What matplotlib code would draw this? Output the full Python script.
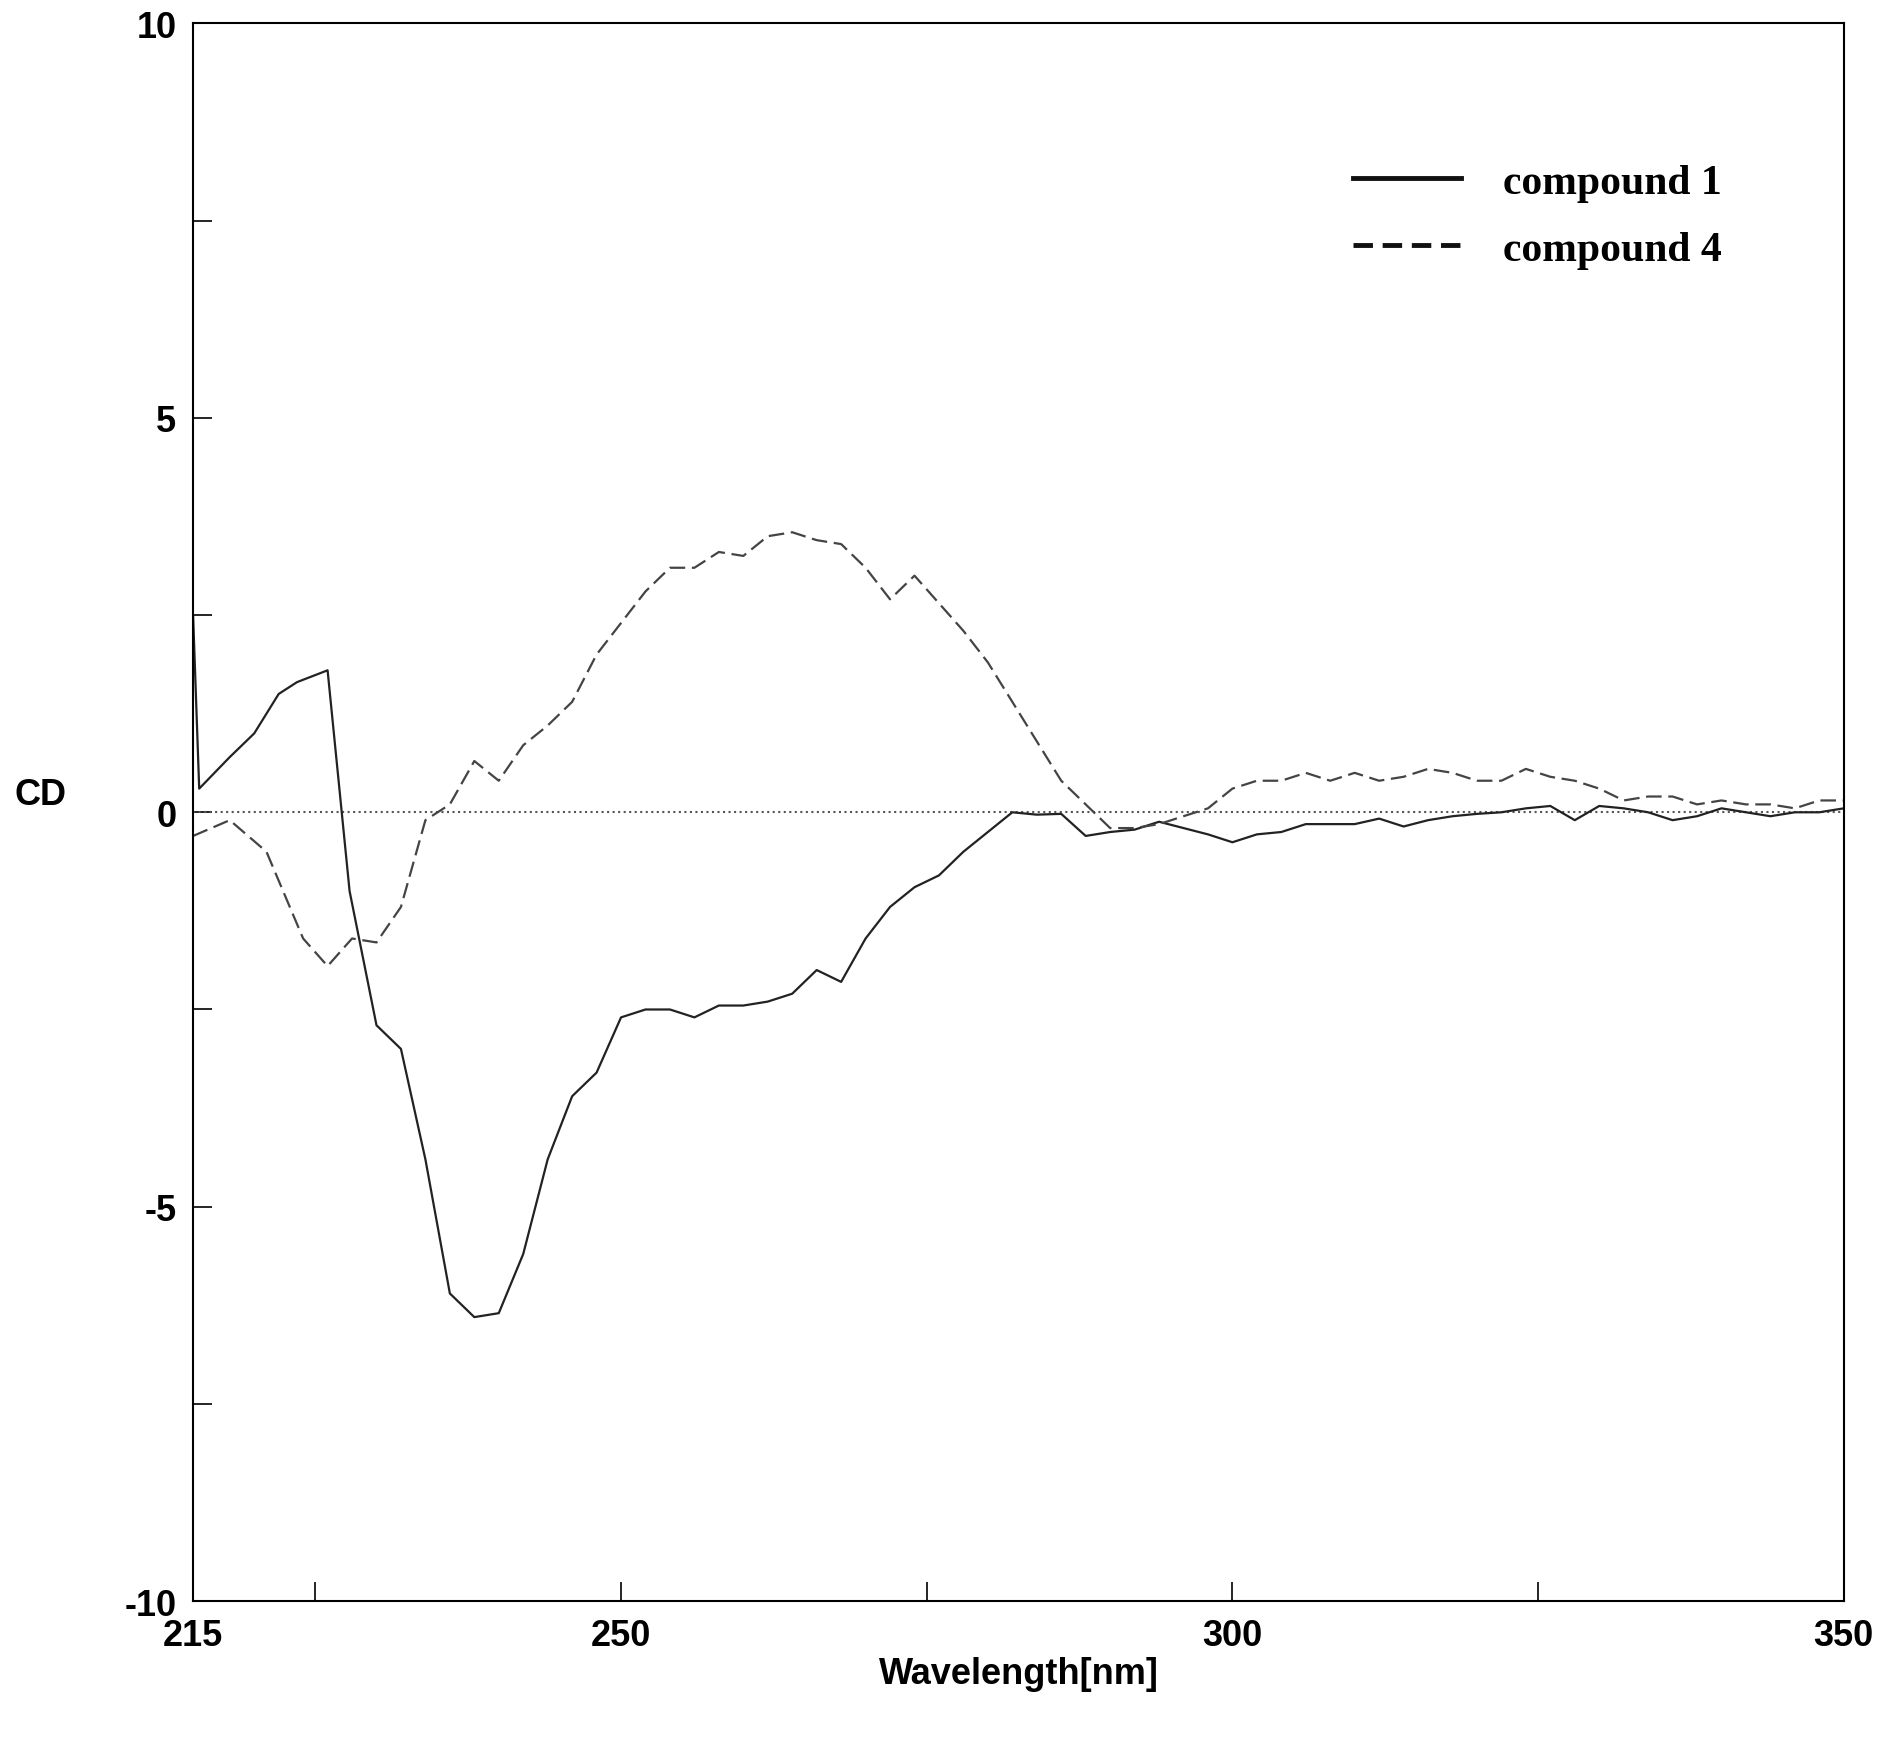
import matplotlib
matplotlib.use('Agg')
import matplotlib.pyplot as plt
from matplotlib.lines import Line2D

# compound 1 (solid)
wl1 = [215, 215.5, 218, 220, 222, 223.5, 226, 227.8, 230, 232, 234, 236, 238, 240, 242, 244, 246, 248, 250,
       252, 254, 256, 258, 260, 262, 264, 266, 268, 270, 272, 274, 276, 278, 280, 282, 284, 286, 288,
       290, 292, 294, 296, 298, 300, 302, 304, 306, 308, 310, 312, 314, 316, 318, 320, 322, 324, 326,
       328, 330, 332, 334, 336, 338, 340, 342, 344, 346, 348, 350]
cd1 = [2.5, 0.3, 0.7, 1.0, 1.5, 1.65, 1.8, -1.0, -2.7, -3.0, -4.4, -6.1, -6.4, -6.35, -5.6, -4.4, -3.6, -3.3, -2.6,
       -2.5, -2.5, -2.6, -2.45, -2.45, -2.4, -2.3, -2.0, -2.15, -1.6, -1.2, -0.95, -0.8, -0.5, -0.25, 0.0, -0.03, -0.02, -0.3,
       -0.25, -0.22, -0.12, -0.2, -0.28, -0.38, -0.28, -0.25, -0.15, -0.15, -0.15, -0.08, -0.18, -0.1, -0.05, -0.02, 0.0, 0.05, 0.08,
       -0.1, 0.08, 0.05, 0.0, -0.1, -0.05, 0.05, 0.0, -0.05, 0.0, 0.0, 0.05]

# compound 4 (dashed)
wl4 = [215, 218, 221, 224, 226, 228, 230, 232, 234, 236, 238, 240, 242, 244, 246, 248, 250, 252, 254, 256,
       258, 260, 262, 264, 266, 268, 270, 272, 274, 276, 278, 280, 282, 284, 286, 288, 290, 292, 294, 296,
       298, 300, 302, 304, 306, 308, 310, 312, 314, 316, 318, 320, 322, 324, 326, 328, 330, 332, 334, 336,
       338, 340, 342, 344, 346, 348, 350]
cd4 = [-0.3, -0.1, -0.5, -1.6, -1.95, -1.6, -1.65, -1.2, -0.1, 0.1, 0.65, 0.4, 0.85, 1.1, 1.4, 2.0, 2.4, 2.8, 3.1, 3.1,
       3.3, 3.25, 3.5, 3.55, 3.45, 3.4, 3.1, 2.7, 3.0, 2.65, 2.3, 1.9, 1.4, 0.9, 0.4, 0.1, -0.2, -0.2, -0.15, -0.05,
       0.05, 0.3, 0.4, 0.4, 0.5, 0.4, 0.5, 0.4, 0.45, 0.55, 0.5, 0.4, 0.4, 0.55, 0.45, 0.4, 0.3, 0.15, 0.2, 0.2,
       0.1, 0.15, 0.1, 0.1, 0.05, 0.15, 0.15]

fig = plt.figure(figsize=(18.93, 17.49), dpi=100)
ax = fig.add_axes([0.102, 0.084, 0.872, 0.902])

ax.axhline(0, color='#555555', linestyle=':', linewidth=1.5)
ax.plot(wl1, cd1, color='#222222', linewidth=1.6)
ax.plot(wl4, cd4, color='#444444', linewidth=1.6, linestyle=(0, (7, 3)))

ax.set_xlim(215, 350)
ax.set_ylim(-10, 10)
ax.set_xticks([215, 225, 250, 275, 300, 325, 350])
ax.set_xticklabels(['215', '', '250', '', '300', '', '350'])
ax.set_yticks([-10, -7.5, -5, -2.5, 0, 2.5, 5, 7.5, 10])
ax.set_yticklabels(['-10', '', '-5', '', '0', '', '5', '', '10'])
ax.tick_params(direction='in', length=14, width=1.2, labelsize=26, pad=12)
for lab in ax.get_xticklabels() + ax.get_yticklabels():
    lab.set_fontfamily('Liberation Sans')
    lab.set_fontweight('bold')
for s in ax.spines.values():
    s.set_linewidth(1.5)

ax.set_xlabel('Wavelength[nm]', fontsize=26, fontweight='bold', family='Liberation Sans', labelpad=2)
ax.set_ylabel('CD', fontsize=26, fontweight='bold', family='Liberation Sans', rotation='horizontal', labelpad=60)

handles = [Line2D([], [], color='#111111', linewidth=3.5),
           Line2D([], [], color='#111111', linewidth=3.5, linestyle=(0, (4, 2)))]
ax.legend(handles, ['compound 1', 'compound 4'], loc='upper left', bbox_to_anchor=(0.68, 0.935),
          frameon=False, handlelength=2.6, handletextpad=1.0,
          prop={'family': 'Liberation Serif', 'weight': 'bold', 'size': 30}, labelspacing=0.7)

plt.savefig('out.png', dpi=100)
